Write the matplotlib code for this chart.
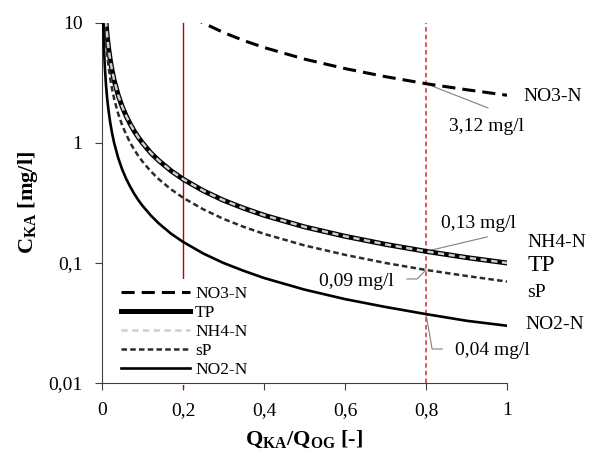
import numpy as np
import matplotlib
matplotlib.use('Agg')
import matplotlib.pyplot as plt

plt.rcParams['font.family'] = ['Liberation Serif', 'DejaVu Serif']
plt.rcParams['mathtext.fontset'] = 'custom'
plt.rcParams['mathtext.rm'] = 'Liberation Serif'
plt.rcParams['mathtext.bf'] = 'Liberation Serif:bold'

# values
x = [0.003, 0.005, 0.007, 0.01, 0.013, 0.016, 0.02, 0.025, 0.03, 0.04, 0.05, 0.06, 0.07, 0.08, 0.09,
     0.1, 0.12, 0.14, 0.17, 0.2, 0.25, 0.3, 0.35, 0.4, 0.5, 0.6, 0.7, 0.8, 0.9, 1.0]
tp = [33, 20, 14.3, 10, 7.7, 6.25, 5.0, 4.0, 3.33, 2.5, 2.0, 1.67, 1.43, 1.25, 1.11,
      1.0, 0.83, 0.714, 0.588, 0.5, 0.4, 0.333, 0.286, 0.25, 0.2, 0.167, 0.143, 0.125, 0.111, 0.1]
nh4 = [33, 20, 14.3, 10, 7.7, 6.25, 5.0, 4.0, 3.33, 2.5, 2.0, 1.67, 1.43, 1.25, 1.11,
       1.0, 0.83, 0.714, 0.588, 0.5, 0.4, 0.333, 0.286, 0.25, 0.2, 0.167, 0.143, 0.125, 0.111, 0.1]
sp = [23, 14, 10, 7.0, 5.4, 4.4, 3.5, 2.8, 2.33, 1.75, 1.4, 1.17, 1.0, 0.875, 0.778,
      0.7, 0.583, 0.5, 0.412, 0.35, 0.28, 0.233, 0.2, 0.175, 0.14, 0.117, 0.1, 0.0875, 0.078, 0.07]
no2 = [10, 6.0, 4.3, 3.0, 2.3, 1.88, 1.5, 1.2, 1.0, 0.75, 0.6, 0.5, 0.43, 0.375, 0.333,
       0.3, 0.25, 0.214, 0.176, 0.15, 0.12, 0.1, 0.086, 0.075, 0.06, 0.05, 0.043, 0.0375, 0.033, 0.03]
x_no3 = [0.22, 0.25, 0.3, 0.35, 0.4, 0.5, 0.6, 0.7, 0.8, 0.9, 1.0]
no3 = [11.4, 10.0, 8.33, 7.14, 6.25, 5.0, 4.17, 3.57, 3.12, 2.78, 2.5]

xticks = [0, 0.2, 0.4, 0.6, 0.8, 1]
xtick_labels = ['0', '0,2', '0,4', '0,6', '0,8', '1']
yticks = [0.01, 0.1, 1, 10]
ytick_labels = ['0,01', '0,1', '1', '10']

fig = plt.figure(figsize=(5.91, 4.59), dpi=100)
ax = fig.add_axes([0.1726, 0.1656, 0.6853, 0.7843])

ax.axvline(0.2, ymin=-0.015, ymax=1, color='#C00000', lw=1.0, clip_on=False, zorder=1)
ax.axvline(0.8, color='#D03030', lw=1.1, dashes=(3, 2), zorder=1)

ax.plot(x_no3, no3, color='black', lw=2.2, dashes=(4.3, 2.3), label='NO3-N', zorder=3)
ax.plot(x, tp, color='black', lw=3.6, label='TP', zorder=3)
ax.plot(x, nh4, color='#CFCFCF', lw=1.8, dashes=(2.5, 1.8), label='NH4-N', zorder=4)
ax.plot(x, sp, color='#2B2B2B', lw=1.8, dashes=(2.2, 1.3), label='sP', zorder=3)
ax.plot(x, no2, color='black', lw=1.9, label='NO2-N', zorder=3)

ax.set_yscale('log')
ax.set_xlim(0, 1)
ax.set_ylim(0.01, 10)
ax.set_xticks(xticks)
ax.set_xticklabels(xtick_labels)
ax.set_yticks(yticks)
ax.set_yticklabels(ytick_labels)
ax.minorticks_off()
ax.tick_params(labelsize=14, length=5, direction='out', color='#404040', pad=9)
for s in ['top', 'right']:
    ax.spines[s].set_visible(False)
for s in ['left', 'bottom']:
    ax.spines[s].set_color('#404040')

ax.set_xlabel(r'$\mathbf{Q}_{\mathbf{KA}}\mathbf{/Q}_{\mathbf{OG}}$ [-]', fontsize=16,
              fontweight='bold', labelpad=7)
ax.set_ylabel(r'$\mathbf{C}_{\mathbf{KA}}$ [mg/l]', fontsize=16, fontweight='bold', labelpad=6)

leg = ax.legend(loc='lower left', bbox_to_anchor=(0.02, -0.016), fontsize=12.5,
                handlelength=4.0, handletextpad=0.3, labelspacing=0.17,
                borderaxespad=0.2, frameon=True, fancybox=False)
leg.get_frame().set_edgecolor('none')
leg.get_frame().set_facecolor('white')
leg.get_frame().set_alpha(1)
leg.set_zorder(2)

# series names on the right
ax.text(1.04, 2.42, 'NO3-N', fontsize=14, va='center', ha='left', clip_on=False)
ax.text(1.05, 0.147, 'NH4-N', fontsize=14, va='center', ha='left', clip_on=False)
ax.text(1.05, 0.096, 'TP', fontsize=17, va='center', ha='left', clip_on=False)
ax.text(1.05, 0.057, 'sP', fontsize=14, va='center', ha='left', clip_on=False)
ax.text(1.045, 0.031, 'NO2-N', fontsize=14, va='center', ha='left', clip_on=False)

# callouts
gc = '#808080'
ax.plot([0.8, 0.953], [3.12, 1.96], color=gc, lw=0.8, zorder=2)
ax.text(0.95, 1.36, '3,12 mg/l', fontsize=14, ha='center', va='center')
ax.plot([0.8, 0.951], [0.125, 0.165], color=gc, lw=0.8, zorder=2)
ax.text(0.93, 0.215, '0,13 mg/l', fontsize=14, ha='center', va='center')
ax.plot([0.8, 0.778, 0.753], [0.0875, 0.0736, 0.0736], color=gc, lw=0.8, zorder=2)
ax.text(0.627, 0.0705, '0,09 mg/l', fontsize=14, ha='center', va='center')
ax.plot([0.8, 0.815, 0.84], [0.0375, 0.0192, 0.0192], color=gc, lw=0.8, zorder=2)
ax.text(0.963, 0.0188, '0,04 mg/l', fontsize=14, ha='center', va='center')

fig.savefig('out.png', dpi=100)
